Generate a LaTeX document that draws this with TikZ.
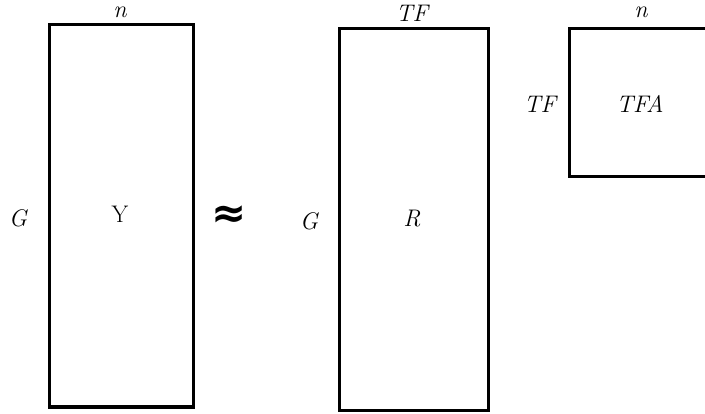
\documentclass[tikz,border=0pt]{standalone}
\usepackage{fontspec}
\newfontfamily\symfont{DejaVu Sans}
\begin{document}
\begin{tikzpicture}[x=1pt,y=-1pt,
  box/.style={draw, line width=3pt, inner sep=0pt, outer sep=0pt},
  lbl/.style={inner sep=0pt, font=\fontsize{24}{28}\selectfont\itshape},
  ulbl/.style={inner sep=0pt, font=\fontsize{24}{28}\selectfont}]
\clip (0,0) rectangle (705,414);
\useasboundingbox (0,0) rectangle (705,414);
\node[box, minimum width=144pt, minimum height=382pt] (Y) at (121,216) {};
\node[box, minimum width=149pt, minimum height=381pt] (R) at (413.5,219.5) {};
\node[box, minimum width=150pt, minimum height=148pt] (T) at (644,103) {};
\node[ulbl] (yl) at (120,214) {Y};
\node[lbl] (n1) at (120,12.5) {n};
\node[lbl] (g1) at (18,218) {G};
\node[inner sep=0pt, font=\fontsize{42}{42}\selectfont\symfont\bfseries] (ap) at (229,217) {≈};
\node[lbl] (rl) at (412,219) {R};
\node[lbl] (tf1) at (412,13) {TF};
\node[lbl] (g2) at (309,221) {G};
\node[lbl] (n3) at (641,12.5) {n};
\node[lbl] (tf2) at (540,104) {TF};
\node[lbl] (tfa) at (640,104) {TFA};
\end{tikzpicture}
\end{document}
